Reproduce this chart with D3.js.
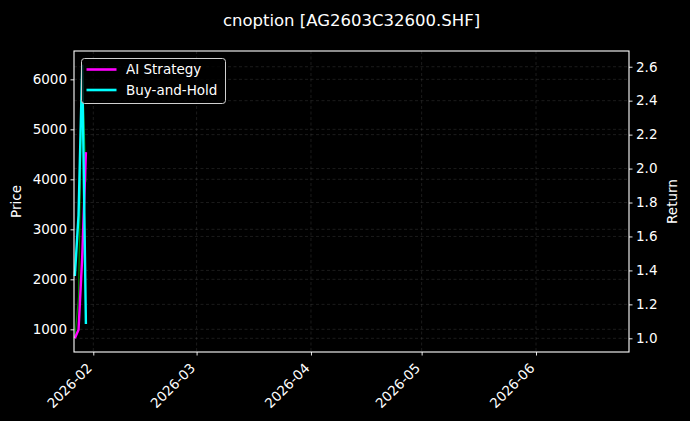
<!DOCTYPE html>
<html>
<head>
<meta charset="utf-8">
<script src="https://cdn.jsdelivr.net/npm/d3@7"></script>
<style>
  body { margin: 0; background: #000; }
  svg { display: block; font-family: "DejaVu Sans", sans-serif; }
</style>
</head>
<body>
<div id="chart"></div>
<script>
// data
var dates = ["2026-01-27", "2026-01-28", "2026-01-29", "2026-01-30"];
var price = [820, 1650, 6293, 3950];          // underlying option price (left axis)
var aiStrategy = [1.0, 1.05, 1.48, 2.097];     // right axis
var buyHold = [1.367, 1.726, 2.612, 1.084];    // right axis

var priceTicks = [1000, 2000, 3000, 4000, 5000, 6000];
var returnTicks = [1.0, 1.2, 1.4, 1.6, 1.8, 2.0, 2.2, 2.4, 2.6];
var monthTicks = ["2026-02-01", "2026-03-01", "2026-04-01", "2026-05-01", "2026-06-01"];

var W = 690, H = 421;
var margin = {top: 51, right: 61, bottom: 69, left: 74};
var width = W - margin.left - margin.right,
    height = H - margin.top - margin.bottom;

var parse = d3.timeParse("%Y-%m-%d");
var fmt = d3.timeFormat("%Y-%m");
var pts = dates.map(function(d, i) {
  return {date: parse(d), price: price[i], ai: aiStrategy[i], bh: buyHold[i]};
});

// matplotlib-like 5% padding around the data
function pad(ext) { var s = ext[1] - ext[0]; return [ext[0] - s * 0.05, ext[1] + s * 0.05]; }

var x = d3.scaleTime()
    .domain([new Date(2026, 0, 26, 18, 30), new Date(2026, 5, 26, 5)])
    .range([0, width]);
var y = d3.scaleLinear().domain(pad(d3.extent(price))).range([height, 0]);
var y2 = d3.scaleLinear()
    .domain(pad([d3.min(aiStrategy.concat(buyHold)), d3.max(aiStrategy.concat(buyHold))]))
    .range([height, 0]);

var svg = d3.select("#chart").append("svg")
    .attr("width", W).attr("height", H)
    .style("background", "#000");

svg.append("text")
    .attr("x", margin.left + width / 2).attr("y", 26)
    .attr("text-anchor", "middle")
    .attr("fill", "#fff").style("font-size", "16.5px")
    .text("cnoption [AG2603C32600.SHF]");

var g = svg.append("g").attr("transform", "translate(" + margin.left + "," + margin.top + ")");

// grid
var gridStyle = function(sel) {
  sel.attr("stroke", "#808080").attr("stroke-opacity", 0.35)
     .attr("stroke-width", 0.6).attr("stroke-dasharray", "3,2.5");
};
g.append("g").selectAll("line").data(monthTicks.map(parse)).enter().append("line")
    .attr("x1", function(d) { return x(d); }).attr("x2", function(d) { return x(d); })
    .attr("y1", 0).attr("y2", height).call(gridStyle);
g.append("g").selectAll("line").data(priceTicks).enter().append("line")
    .attr("x1", 0).attr("x2", width)
    .attr("y1", function(d) { return y(d); }).attr("y2", function(d) { return y(d); })
    .call(gridStyle);
g.append("g").selectAll("line").data(returnTicks).enter().append("line")
    .attr("x1", 0).attr("x2", width)
    .attr("y1", function(d) { return y2(d); }).attr("y2", function(d) { return y2(d); })
    .call(gridStyle);

// lines
var lines = g.append("g");
lines.append("path").datum(pts)
    .attr("fill", "none").attr("stroke", "#00b000").attr("stroke-opacity", 0.8)
    .attr("stroke-width", 1.2)
    .attr("d", d3.line().x(function(d) { return x(d.date); }).y(function(d) { return y(d.price); }));
lines.append("path").datum(pts)
    .attr("fill", "none").attr("stroke", "#ff00ff").attr("stroke-width", 2.4)
    .attr("d", d3.line().x(function(d) { return x(d.date); }).y(function(d) { return y2(d.ai); }));
lines.append("path").datum(pts)
    .attr("fill", "none").attr("stroke", "#00ffff").attr("stroke-width", 2.4)
    .attr("d", d3.line().x(function(d) { return x(d.date); }).y(function(d) { return y2(d.bh); }));

// axes
function styleAxis(sel) {
  sel.select(".domain").remove();
  sel.selectAll(".tick line").attr("stroke", "#fff").attr("stroke-width", 0.9);
  sel.selectAll(".tick text").attr("fill", "#fff")
     .style("font-size", "13.5px").style("font-family", "DejaVu Sans, sans-serif");
}
var xAxis = g.append("g").attr("transform", "translate(0," + height + ")")
    .call(d3.axisBottom(x).tickValues(monthTicks.map(parse)).tickFormat(fmt)
      .tickSizeInner(3.5).tickSizeOuter(0).tickPadding(3.5))
    .call(styleAxis);
xAxis.selectAll(".tick text")
    .attr("text-anchor", "end")
    .attr("dy", null).attr("y", null)
    .attr("transform", "translate(-1,17) rotate(-45)");

g.append("g")
    .call(d3.axisLeft(y).tickValues(priceTicks).tickFormat(d3.format("d"))
      .tickSizeInner(3.5).tickSizeOuter(0).tickPadding(3.5))
    .call(styleAxis);
g.append("g").attr("transform", "translate(" + width + ",0)")
    .call(d3.axisRight(y2).tickValues(returnTicks).tickFormat(d3.format(".1f"))
      .tickSizeInner(3.5).tickSizeOuter(0).tickPadding(3.5))
    .call(styleAxis);

g.append("rect").attr("width", width).attr("height", height)
    .attr("fill", "none").attr("stroke", "#fff").attr("stroke-width", 1.1);

svg.append("text")
    .attr("transform", "translate(21," + (margin.top + height / 2) + ") rotate(-90)")
    .attr("text-anchor", "middle").attr("fill", "#fff").style("font-size", "13.5px")
    .text("Price");
svg.append("text")
    .attr("transform", "translate(677," + (margin.top + height / 2) + ") rotate(-90)")
    .attr("text-anchor", "middle").attr("fill", "#fff").style("font-size", "13.5px")
    .text("Return");

// legend
var legendItems = [{name: "AI Strategy", color: "#ff00ff"}, {name: "Buy-and-Hold", color: "#00ffff"}];
var lg = svg.append("g").attr("transform", "translate(81.5,58.5)");
lg.append("rect").attr("width", 144).attr("height", 45).attr("rx", 3)
    .attr("fill", "#000").attr("fill-opacity", 0.8)
    .attr("stroke", "#d0d0d0").attr("stroke-width", 1);
var li = lg.selectAll(".li").data(legendItems).enter().append("g")
    .attr("transform", function(d, i) { return "translate(0," + (11 + i * 20.5) + ")"; });
li.append("line").attr("x1", 5).attr("x2", 35)
    .attr("stroke", function(d) { return d.color; }).attr("stroke-width", 2.6);
li.append("text").attr("x", 44.5).attr("dy", "0.35em")
    .attr("fill", "#fff").style("font-size", "13.5px")
    .text(function(d) { return d.name; });
</script>
</body>
</html>
